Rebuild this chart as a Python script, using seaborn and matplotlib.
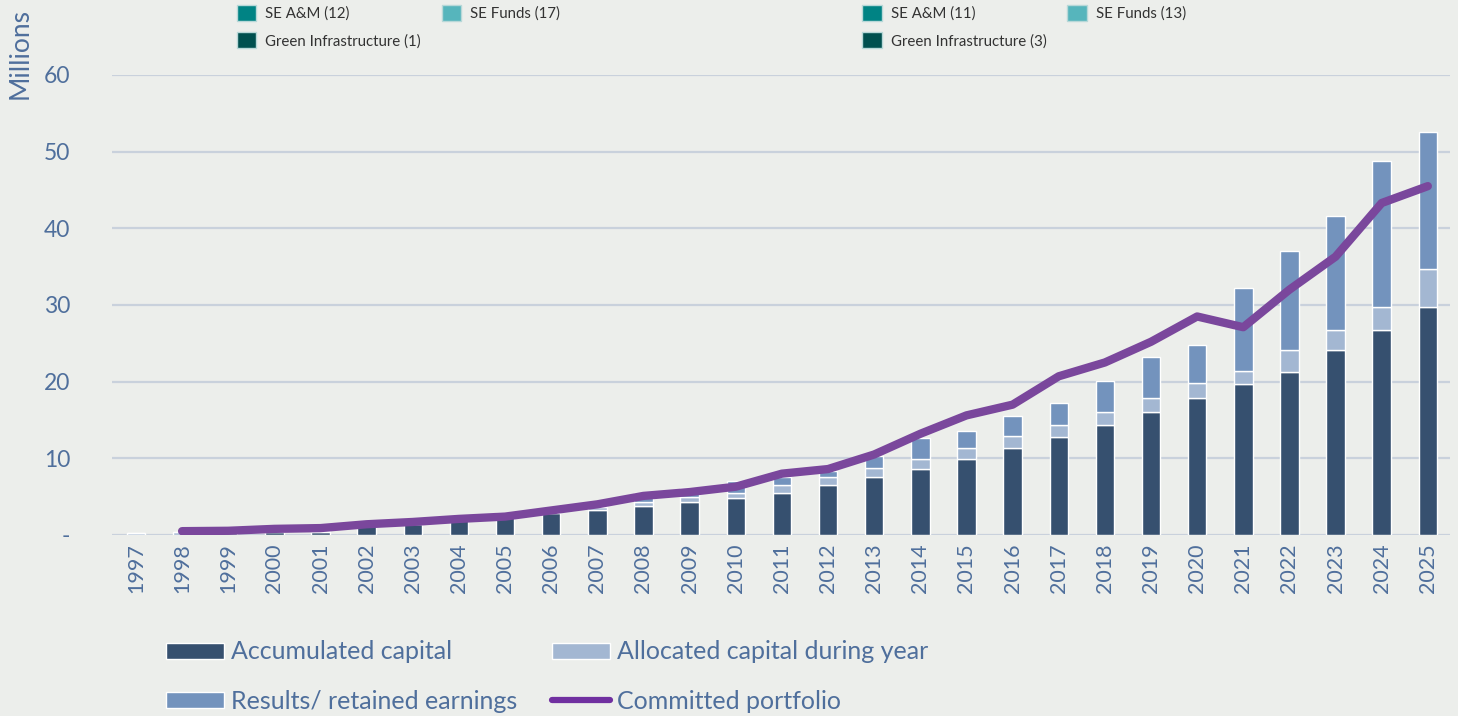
import numpy as np
import pandas as pd
import matplotlib
matplotlib.use("Agg")
import matplotlib.pyplot as plt
from matplotlib.patches import Patch
from matplotlib.lines import Line2D
import seaborn as sns

# Data (millions)
years = [str(y) for y in range(1997, 2026)]

accumulated = [0.0, 0.05, 0.2, 0.35, 0.4, 1.2, 1.4, 1.9, 2.5, 2.9,
               3.3, 3.8, 4.25, 4.8, 5.5, 6.5, 7.5, 8.65, 9.9, 11.4,
               12.8, 14.3, 16.0, 17.9, 19.7, 21.3, 24.1, 26.7, 29.8]

allocated = [0.2, 0.35, 0.2, 0.2, 0.1, 0.2, 0.2, 0.2, 0.2, 0.2,
             0.35, 0.55, 0.75, 0.7, 1.0, 1.0, 1.2, 1.25, 1.5, 1.5,
             1.5, 1.7, 1.9, 1.9, 1.7, 2.8, 2.6, 3.1, 4.9]

results = [0.0, 0.0, 0.0, 0.0, 0.0, 0.1, 0.1, 0.2, 0.2, 0.2,
           0.1, 1.15, 1.1, 1.5, 1.1, 0.8, 1.6, 2.8, 2.2, 2.6,
           2.9, 4.1, 5.3, 5.0, 10.8, 13.0, 14.9, 19.0, 17.8]

committed = [np.nan, 0.5, 0.55, 0.8, 0.9, 1.4, 1.7, 2.1, 2.4, 3.2,
             4.0, 5.1, 5.6, 6.3, 8.0, 8.6, 10.5, 13.2, 15.6, 17.0,
             20.7, 22.5, 25.2, 28.5, 27.1, 32.0, 36.3, 43.3, 45.5]

top_legend_left = ["SE A&M (12)", "Green Infrastructure (1)", "SE Funds (17)"]
top_legend_right = ["SE A&M (11)", "Green Infrastructure (3)", "SE Funds (13)"]

df = pd.DataFrame({
    "year": years,
    "accumulated": accumulated,
    "allocated": allocated,
    "results": results,
    "committed": committed,
})

# Colours
bg = "#ECEEEB"
c_acc = "#36506F"
c_alloc = "#A3B7D2"
c_res = "#7393BD"
c_line = "#7A479C"
c_text = "#4F6F9C"
teal = "#008384"
teal_light = "#56B5BC"
teal_dark = "#00504F"

sns.set_style("white")
plt.rcParams["font.family"] = ["Lato", "DejaVu Sans"]

fig = plt.figure(figsize=(14.58, 7.16), dpi=100, facecolor=bg)
ax = fig.add_axes([0.0768, 0.2528, 0.9177, 0.6425])
ax.set_facecolor(bg)

bw = 0.40
sns.barplot(data=df, x="year", y="accumulated", color=c_acc,
            saturation=1, width=bw, errorbar=None, ax=ax, zorder=2)
sns.barplot(data=df, x="year", y="allocated", bottom=df["accumulated"],
            color=c_alloc, saturation=1, width=bw, errorbar=None, ax=ax, zorder=2)
sns.barplot(data=df, x="year", y="results",
            bottom=df["accumulated"] + df["allocated"],
            color=c_res, saturation=1, width=bw, errorbar=None, ax=ax, zorder=2)

sns.lineplot(x=np.arange(len(years)), y=df["committed"], color=c_line,
             linewidth=6, ax=ax, zorder=3, solid_capstyle="round")

ax.set_xlim(-0.52, 28.48)
ax.set_ylim(0, 60)
ax.set_yticks([0, 10, 20, 30, 40, 50, 60])
ax.set_yticklabels(["-", "10", "20", "30", "40", "50", "60"])
ax.yaxis.grid(True, color="#C9D1DC", linewidth=1.6, zorder=0)
ax.set_axisbelow(True)
ax.tick_params(axis="y", length=0, pad=30, labelsize=16.5, labelcolor=c_text)
ax.tick_params(axis="x", length=0, pad=6, labelsize=15.5, labelcolor=c_text,
               labelrotation=90)
ax.set_xlabel("")
ax.set_ylabel("")
for s in ax.spines.values():
    s.set_visible(False)

fig.text(0.0137, 0.925, "Millions", rotation=90, ha="center", va="center",
         fontsize=19, color=c_text)

# top legends (teal)
def top_legend(labels, x):
    handles = [Patch(facecolor=teal, edgecolor="#B8D8D8"),
               Patch(facecolor=teal_dark, edgecolor="#B8D8D8"),
               Patch(facecolor=teal_light, edgecolor="#B8D8D8")]
    leg = fig.legend(handles, labels, loc="upper left", bbox_to_anchor=(x, 1.012),
                     ncol=2, frameon=False, fontsize=10.8, labelcolor="#333333",
                     handlelength=1.3, handleheight=1.3, handletextpad=0.6,
                     columnspacing=1.4, labelspacing=0.72)
    return leg

top_legend(top_legend_left, 0.153)
top_legend(top_legend_right, 0.582)

# bottom legend
handles = [Patch(facecolor=c_acc), Patch(facecolor=c_res),
           Patch(facecolor=c_alloc), Line2D([0], [0], color="#7030A0", lw=4.5)]
labels = ["Accumulated capital", "Results/ retained earnings",
          "Allocated capital during year", "Committed portfolio"]
fig.legend(handles, labels, loc="upper left", bbox_to_anchor=(0.0985, 0.137),
           ncol=2, frameon=False, fontsize=18, labelcolor=c_text,
           handlelength=2.3, handleheight=0.62, handletextpad=0.3,
           columnspacing=1.4, labelspacing=1.05)

fig.savefig("out.png", dpi=100, facecolor=bg)
